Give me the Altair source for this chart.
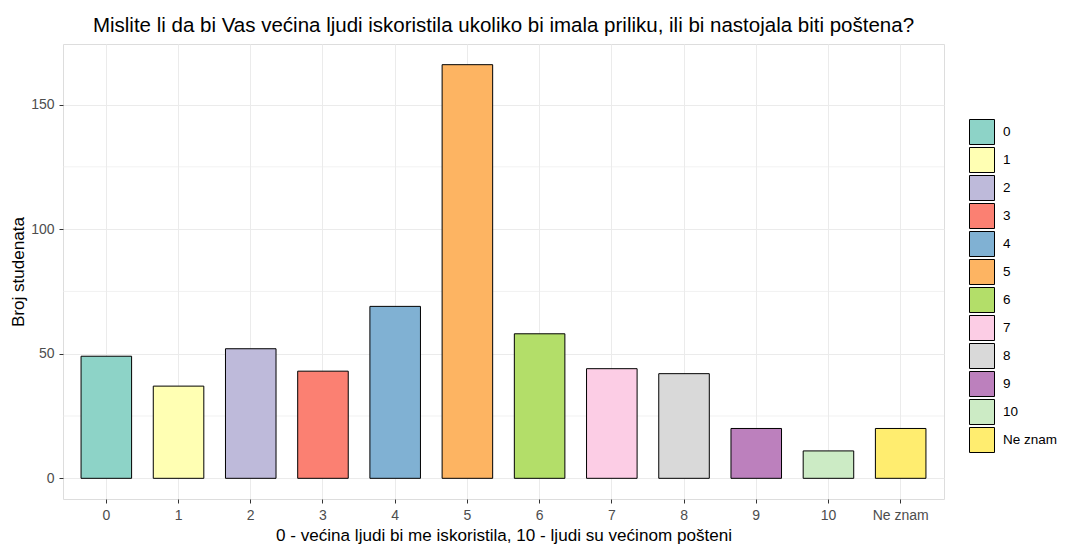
import altair as alt
import pandas as pd

categories = ["0", "1", "2", "3", "4", "5", "6", "7", "8", "9", "10", "Ne znam"]
counts = [49, 37, 52, 43, 69, 166, 58, 44, 42, 20, 11, 20]
colors = ["#8DD3C7", "#FFFFB3", "#BEBADA", "#FB8072", "#80B1D3", "#FDB462",
          "#B3DE69", "#FCCDE5", "#D9D9D9", "#BC80BD", "#CCEBC5", "#FFED6F"]
major_ticks = [0, 50, 100, 150]
minor_ticks = [25, 75, 125]

df = pd.DataFrame({"odgovor": categories, "broj": counts})
minor_df = pd.DataFrame({"v": minor_ticks})

FONT = "Liberation Sans"

yscale = alt.Scale(domain=[-8.3, 174.3], nice=False, zero=False)

minor = alt.Chart(minor_df).mark_rule(color="#EBEBEB", strokeWidth=0.7).encode(
    y=alt.Y("v:Q", scale=yscale)
)

bars = alt.Chart(df).mark_bar(stroke="black", strokeWidth=1).encode(
    x=alt.X(
        "odgovor:N",
        sort=categories,
        scale=alt.Scale(paddingInner=0.3, paddingOuter=0.25),
        axis=alt.Axis(
            title="0 - većina ljudi bi me iskoristila, 10 - ljudi su većinom pošteni",
            labelAngle=0,
            grid=True,
            bandPosition=0.5,
            gridColor="#EBEBEB",
            domain=False,
            tickColor="#333333",
            tickSize=4,
            tickBand="center",
            labelPadding=5,
            labelColor="#4D4D4D",
            labelFontSize=14,
            labelFont=FONT,
            titleFont=FONT,
            titleFontSize=17.1,
            titleFontWeight="normal",
            titleColor="black",
            titleBaseline="alphabetic",
            titleY=41,
        ),
    ),
    y=alt.Y(
        "broj:Q",
        scale=yscale,
        axis=alt.Axis(
            title="Broj studenata",
            values=major_ticks,
            grid=True,
            gridColor="#EBEBEB",
            domain=False,
            tickColor="#333333",
            tickSize=4,
            labelPadding=5,
            labelColor="#4D4D4D",
            labelFontSize=14,
            labelFont=FONT,
            titleFont=FONT,
            titleFontSize=17.1,
            titleFontWeight="normal",
            titleColor="black",
            titleAngle=-90,
            titleBaseline="middle",
            titleX=-45,
            titleY=227.5,
        ),
    ),
    color=alt.Color(
        "odgovor:N",
        sort=categories,
        scale=alt.Scale(domain=categories, range=colors),
        legend=alt.Legend(
            title=None,
            orient="none",
            legendX=906,
            legendY=75,
            symbolType="square",
            symbolSize=625,
            symbolStrokeColor="black",
            symbolStrokeWidth=1,
            symbolOpacity=1,
            rowPadding=-2,
            labelOffset=8,
            labelFontSize=13.5,
            labelFont=FONT,
            labelColor="black",
            padding=0,
        ),
    ),
)

chart = alt.layer(minor, bars).properties(
    width=881,
    height=455,
    title=alt.Title(
        "Mislite li da bi Vas većina ljudi iskoristila ukoliko bi imala priliku, ili bi nastojala biti poštena?",
        font=FONT,
        fontSize=20.5,
        fontWeight="normal",
        color="black",
        anchor="middle",
        offset=8,
    ),
    autosize=alt.AutoSizeParams(type="none"),
    padding={"left": 55, "top": 36, "right": 113, "bottom": 48},
).configure_view(
    stroke="#333333", strokeWidth=1
).configure(background="white")

chart.save("out.html", embed_options={"renderer": "svg", "actions": False})
